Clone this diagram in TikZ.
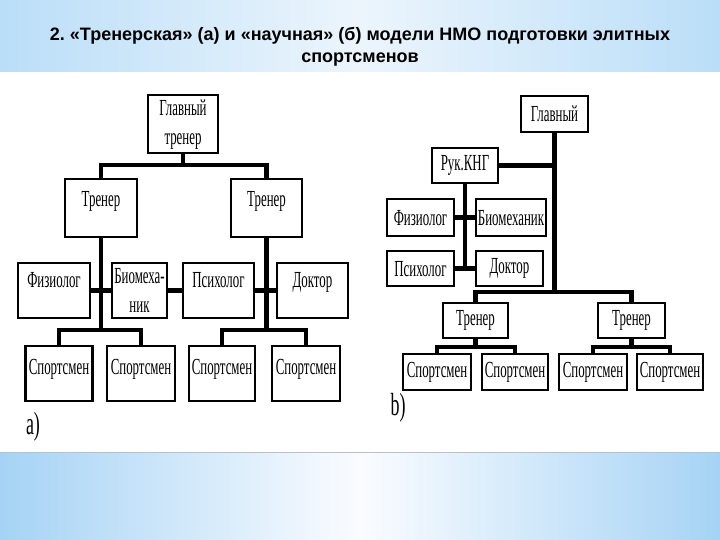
\documentclass[tikz,border=0pt]{standalone}
\usepackage{fontspec}
\setmainfont{Liberation Sans}
\newfontfamily\boxfont[FakeStretch=0.56]{Liberation Serif}
\frenchspacing

\definecolor{bandedge}{RGB}{166,211,245}
\definecolor{bandmid}{RGB}{250,252,255}
\definecolor{topedge}{RGB}{186,222,248}
\definecolor{topmid}{RGB}{236,245,252}

\tikzset{
  cell/.style={draw, line width=2.4pt, inner sep=0pt, anchor=north,
    font=\boxfont\fontsize{23}{29}\selectfont},
  conn/.style={line width=4.5pt, line join=miter},
  tag/.style={font=\boxfont\fontsize{32}{34}\selectfont, inner sep=0pt},
  title/.style={font=\bfseries\fontsize{18}{22}\selectfont, align=center, inner sep=0pt}
}

\begin{document}
\begin{tikzpicture}[x=1pt,y=-1pt]
    \useasboundingbox (0,0) rectangle (720,540);

    % фон слайда
    \fill[white] (0,0) rectangle (720,540);
    \shade[left color=topedge, right color=topedge, middle color=topmid] (0,0) rectangle (720,72);
    \shade[left color=bandedge, right color=bandedge, middle color=bandmid] (0,452) rectangle (720,540);
    \draw[black!25, line width=0.8pt] (0,452) -- (720,452);

    \node[title, anchor=north] (ttl) at (360,27) {2. «Тренерская» (а) и «научная» (б) модели НМО подготовки элитных\\спортсменов};

    % а) тренерская модель
    \node[cell, minimum width=70, minimum height=58, align=center] (glavA) at (183,94) {Главный\\тренер};
    \node[cell, minimum width=72, text height=27, text depth=31] (trenA1) at (101,178) {Тренер};
    \node[cell, minimum width=71, text height=27, text depth=31] (trenA2) at (266.5,178) {Тренер};

    \node[cell, minimum width=72, text height=24, text depth=31] (fizA) at (54,262) {Физиолог};
    \node[cell, minimum width=55, minimum height=55, align=center] (bioA) at (139.5,262) {Биомеха-\\ник};
    \node[cell, minimum width=71, text height=24, text depth=31] (psyA) at (218.5,262) {Психолог};
    \node[cell, minimum width=71, text height=24, text depth=31] (docA) at (312.5,262) {Доктор};

    \node[cell, minimum width=67, text height=28, text depth=27] (sportA1) at (59,345) {Спортсмен};
    \node[cell, minimum width=68, text height=28, text depth=27] (sportA2) at (141,345) {Спортсмен};
    \node[cell, minimum width=66, text height=28, text depth=27] (sportA3) at (222,345) {Спортсмен};
    \node[cell, minimum width=68, text height=28, text depth=27] (sportA4) at (306,345) {Спортсмен};

    \coordinate (jA) at (183,165);
    \coordinate (kA1) at (101,330);
    \coordinate (kA2) at (266.5,330);

    \draw[conn] (glavA.south) -- (jA);
    \draw[conn] (trenA1.north) |- (jA) -| (trenA2.north);
    \draw[conn] (trenA1.south) -- (kA1);
    \draw[conn] (trenA2.south) -- (kA2);
    \draw[conn] (sportA1.north) |- (kA1) -| (sportA2.north);
    \draw[conn] (sportA3.north) |- (kA2) -| (sportA4.north);
    \draw[conn] (fizA.east) -- (bioA.west);
    \draw[conn] (bioA.east) -- (psyA.west);
    \draw[conn] (psyA.east) -- (docA.west);

    \node[tag] (capA) at (33,427) {a)};

    % b) научная модель
    \node[cell, minimum width=67, minimum height=36] (glavB) at (554.5,95) {Главный};
    \node[cell, minimum width=66, minimum height=35] (rukB) at (465,147) {Рук.КНГ};
    \node[cell, minimum width=67, minimum height=37] (fizB) at (420.5,198) {Физиолог};
    \node[cell, minimum width=70, minimum height=37] (bioB) at (511,198) {Биомеханик};
    \node[cell, minimum width=67, minimum height=35] (psyB) at (420.5,250) {Психолог};
    \node[cell, minimum width=67, minimum height=35] (docB) at (509.5,250) {Доктор};

    \node[cell, minimum width=65, minimum height=35] (trenB1) at (475.5,302) {Тренер};
    \node[cell, minimum width=67, minimum height=35] (trenB2) at (631.5,302) {Тренер};

    \node[cell, minimum width=68, minimum height=36] (sportB1) at (437,353) {Спортсмен};
    \node[cell, minimum width=66, minimum height=36] (sportB2) at (515,353) {Спортсмен};
    \node[cell, minimum width=68, minimum height=36] (sportB3) at (593,353) {Спортсмен};
    \node[cell, minimum width=66, minimum height=36] (sportB4) at (670,353) {Спортсмен};

    \coordinate (jB) at (554.5,292);
    \coordinate (kB1) at (475.5,347);
    \coordinate (kB2) at (631.5,347);

    \draw[conn] (glavB.south) -- (jB);
    \draw[conn] (rukB.east) -- (rukB.east -| glavB.south);
    \draw[conn] (rukB.south) -- (rukB.south |- psyB.east);
    \draw[conn] (fizB.east) -- (bioB.west);
    \draw[conn] (psyB.east) -- (docB.west);
    \draw[conn] (trenB1.north) |- (jB) -| (trenB2.north);
    \draw[conn] (trenB1.south) -- (kB1);
    \draw[conn] (trenB2.south) -- (kB2);
    \draw[conn] (sportB1.north) |- (kB1) -| (sportB2.north);
    \draw[conn] (sportB3.north) |- (kB2) -| (sportB4.north);

    \node[tag] (capB) at (398,408) {b)};
\end{tikzpicture}
\end{document}
